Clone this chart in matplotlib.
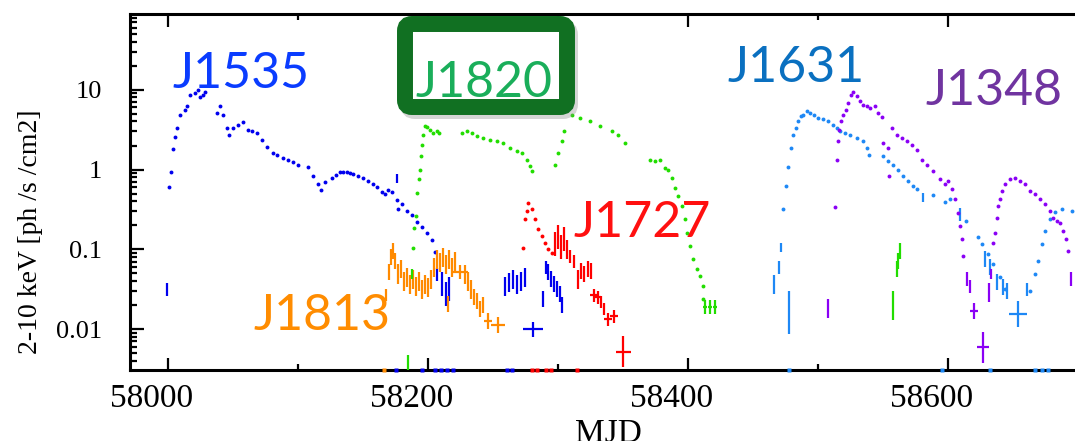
import matplotlib
matplotlib.use("Agg")
import matplotlib.pyplot as plt
import matplotlib.transforms as mtransforms
from matplotlib.patches import FancyBboxPatch
from matplotlib.ticker import FixedLocator, FixedFormatter, LogLocator, MultipleLocator, NullFormatter
import numpy as np

# ---- data (MJD, flux in ph/s/cm2) ----
# J1535 (blue)
j1535_t = [58000.8, 58002.3, 58003.8, 58005.4, 58006.9, 58009.2, 58013.1, 58014.6, 58016.9, 58020.8,
           58023.1, 58024.6, 58026.9, 58028.5, 58037.7, 58040.0, 58042.3, 58045.4, 58046.9, 58050.0,
           58053.8, 58057.7, 58061.5, 58065.0, 58068.5, 58072.0, 58076.2, 58080.8, 58084.0, 58088.5,
           58092.0, 58096.2, 58100.0, 58107.7, 58111.5, 58115.4, 58117.7, 58120.8, 58126.2, 58129.0,
           58132.3, 58135.0, 58137.7, 58140.0, 58142.3, 58146.0, 58150.0, 58154.0, 58157.7, 58161.0,
           58164.6, 58167.0, 58169.2, 58172.3, 58176.2, 58176.9, 58180.0, 58183.8, 58187.7, 58191.5,
           58195.4, 58199.2, 58203.1, 58205.4]
j1535_f = [0.61, 0.94, 1.83, 2.58, 3.35, 4.87, 5.62, 6.31, 8.66, 9.17,
           10.0, 8.18, 8.66, 9.44, 5.16, 6.31, 4.87, 3.35, 2.74, 3.35,
           3.65, 3.98, 3.16, 3.06, 2.90, 2.37, 1.94, 1.63, 1.50, 1.41,
           1.33, 1.26, 1.15, 1.09, 0.82, 0.65, 0.56, 0.69, 0.79, 0.85,
           0.92, 0.93, 0.92, 0.90, 0.87, 0.83, 0.79, 0.72, 0.65, 0.60,
           0.53, 0.50, 0.56, 0.52, 0.42, 0.32, 0.37, 0.30, 0.27, 0.22,
           0.19, 0.16, 0.13, 0.092]
j1535_et = [57999.2, 58176.2, 58206.9, 58210.8, 58213.8, 58216.2, 58259.2, 58262.3, 58265.4, 58268.5,
            58271.5, 58274.6, 58288.5, 58290.8, 58292.3, 58294.6, 58296.9, 58299.2, 58301.5, 58303.1,
            58280.8]
j1535_ef = [0.0316, 0.77, 0.0487, 0.0365, 0.0274, 0.0316, 0.0345, 0.0385, 0.0422, 0.0365,
            0.0398, 0.0447, 0.0237, 0.0596, 0.0516, 0.0422, 0.0365, 0.0316, 0.0274, 0.0200,
            0.0100]
j1535_edex = [0.08, 0.06, 0.08, 0.15, 0.15, 0.15, 0.12, 0.12, 0.12, 0.12,
              0.12, 0.12, 0.10, 0.08, 0.10, 0.10, 0.10, 0.10, 0.10, 0.10,
              0.094]
j1535_xerr = [0.8, 0.8, 0.8, 0.8, 0.8, 0.8, 0.8, 0.8, 0.8, 0.8,
              0.8, 0.8, 0.8, 0.8, 0.8, 0.8, 0.8, 0.8, 0.8, 0.8,
              7.7]
j1535_low = [58175.4, 58195.4, 58205.4, 58210.0, 58214.6, 58219.2, 58260.8, 58264.6]

# J1813 (orange)
j1813_t = [58167.7, 58170.0, 58171.5, 58173.1, 58174.6, 58176.9, 58179.2, 58181.5, 58183.8, 58186.2,
           58188.5, 58190.8, 58193.1, 58195.4, 58197.7, 58200.0, 58202.3, 58204.6, 58206.9, 58209.2,
           58211.5, 58213.8, 58215.4, 58216.2, 58218.5, 58220.8, 58224.6, 58228.5, 58230.8, 58233.1,
           58235.4, 58237.7, 58240.0, 58242.3, 58246.2, 58253.8]
j1813_f = [0.0266, 0.0516, 0.0794, 0.0944, 0.0708, 0.0487, 0.0562, 0.0398, 0.0447, 0.0365,
           0.0422, 0.0345, 0.0398, 0.0316, 0.0365, 0.0335, 0.0422, 0.0596, 0.075, 0.0688,
           0.0794, 0.065, 0.0205, 0.075, 0.0596, 0.0708, 0.0516, 0.0487, 0.0398, 0.0316,
           0.0251, 0.0224, 0.0178, 0.0200, 0.0126, 0.0112]
j1813_edex = [0.075, 0.10, 0.10, 0.10, 0.10, 0.125, 0.11, 0.12, 0.12, 0.12,
              0.12, 0.12, 0.12, 0.12, 0.12, 0.12, 0.12, 0.12, 0.12, 0.12,
              0.12, 0.12, 0.10, 0.12, 0.12, 0.12, 0.09, 0.12, 0.12, 0.12,
              0.10, 0.10, 0.10, 0.10, 0.10, 0.10]
j1813_xerr = [0.8] * 26 + [6.2] + [0.8] * 7 + [3.0, 5.4]
j1813_low = [58166.2]

# J1820 (green)
j1820_t = [58188.7, 58189.5, 58190.5, 58191.8, 58193.1, 58193.8, 58194.6, 58195.6, 58196.4, 58197.7,
           58199.2, 58201.5, 58204.1, 58206.7, 58208.7,
           58225.9, 58229.8, 58233.6, 58237.5, 58242.5, 58247.7, 58252.8, 58257.9, 58263.1, 58268.2,
           58272.1, 58275.9, 58278.5, 58279.8,
           58297.7, 58300.2, 58302.8, 58304.6, 58310.5, 58316.9, 58324.6, 58332.3, 58341.3, 58346.4,
           58351.5,
           58370.8, 58374.6, 58378.5, 58382.3, 58384.8, 58387.5, 58390.0, 58392.5, 58395.2, 58397.7,
           58399.0, 58401.5, 58404.1, 58406.7, 58409.2, 58411.3, 58411.8]
j1820_f = [0.105, 0.187, 0.261, 0.511, 0.765, 1.0, 1.47, 2.05, 2.74, 3.48,
           3.45, 3.16, 2.87, 3.01, 2.87,
           2.87, 3.01, 2.87, 2.66, 2.49, 2.37, 2.26, 2.16, 1.87, 1.69,
           1.62, 1.33, 1.10, 0.95,
           1.155, 1.62, 2.26, 3.01, 4.87, 4.43, 4.02, 3.48, 3.01, 2.74,
           2.16,
           1.33, 1.27, 1.33, 1.05, 1.0, 0.787, 0.59, 0.464, 0.348, 0.237,
           0.162, 0.11, 0.075, 0.0562, 0.0464, 0.0348, 0.0237]
j1820_et = [58187.9, 58413.1, 58416.9, 58420.8, 58557.9, 58560.5, 58561.8, 58563.1, 58184.8]
j1820_ef = [0.0487, 0.0188, 0.0188, 0.0188, 0.0196, 0.0562, 0.0714, 0.0953, 0.003]
j1820_edex = [0.06, 0.09, 0.09, 0.09, 0.18, 0.10, 0.10, 0.10, 0.20]
j1820_xerr = [0.8, 1.5, 1.5, 1.5, 0.8, 0.8, 0.8, 0.8, 0.8]

# J1727 (red)
j1727_t = [58273.3, 58274.6, 58275.9, 58277.2, 58279.8, 58282.3, 58284.8, 58287.5, 58290.0, 58292.5, 58295.2]
j1727_f = [0.105, 0.237, 0.301, 0.384, 0.316, 0.237, 0.178, 0.147, 0.121, 0.100, 0.091]
j1727_et = [58297.7, 58300.0, 58302.3, 58304.6, 58306.9, 58309.2, 58312.3, 58315.4, 58317.7, 58320.0,
            58323.1, 58325.4, 58327.7, 58330.8, 58333.1, 58335.4, 58338.5, 58343.1, 58350.4]
j1727_ef = [0.1155, 0.141, 0.106, 0.133, 0.100, 0.0818, 0.0708, 0.0422, 0.0531, 0.0487,
            0.0562, 0.0531, 0.0266, 0.0251, 0.0218, 0.0178, 0.0133, 0.0145, 0.00523]
j1727_edex = [0.15, 0.15, 0.15, 0.15, 0.12, 0.08, 0.08, 0.12, 0.10, 0.10,
              0.10, 0.10, 0.08, 0.08, 0.08, 0.08, 0.08, 0.08, 0.19]
j1727_xerr = [0.8] * 12 + [3.0, 2.0, 0.8, 0.8, 3.0, 3.0, 5.4]
j1727_low = [58280.0, 58284.0, 58291.0, 58295.0, 58315.0]

# J1631 (light blue)
j1631_t = [58473.3, 58475.2, 58477.2, 58479.2, 58481.0, 58483.1, 58484.8, 58486.9, 58488.7, 58491.3,
           58493.8, 58496.9, 58500.2, 58504.1, 58507.9, 58511.8, 58514.4, 58516.9, 58520.8, 58524.6,
           58529.8, 58534.8, 58537.5, 58539.5, 58550.2, 58554.1, 58558.0, 58561.8, 58565.6, 58569.5,
           58573.3, 58575.9, 58588.5, 58597.7, 58601.5, 58613.8, 58623.1, 58626.2, 58630.8, 58634.6,
           58640.0, 58643.8, 58663.1, 58666.9, 58669.2, 58672.3, 58674.6, 58678.5, 58682.3, 58687.7,
           58695.4]
j1631_f = [0.316, 0.618, 1.08, 1.87, 2.74, 3.32, 4.02, 4.64, 4.87, 5.35,
           5.12, 4.87, 4.43, 4.30, 4.02, 3.65, 3.32, 3.01, 2.87, 2.74,
           2.49, 2.26, 1.87, 1.54, 1.47, 1.27, 1.155, 1.0, 0.825, 0.714,
           0.618, 0.562, 0.473, 0.387, 0.422, 0.224, 0.141, 0.1155, 0.0866, 0.065,
           0.0447, 0.0316, 0.0299, 0.0487, 0.0708, 0.1155, 0.168, 0.237, 0.290, 0.316,
           0.299]
j1631_et = [58466.4, 58470.2, 58471.3, 58477.9, 58580.8, 58609.2, 58628.5, 58632.3, 58637.7, 58642.3,
            58645.4, 58660.8, 58654.1]
j1631_ef = [0.0358, 0.059, 0.105, 0.0162, 0.447, 0.274, 0.075, 0.0596, 0.0385, 0.0335,
            0.0299, 0.0316, 0.0154]
j1631_edex = [0.12, 0.08, 0.06, 0.27, 0.06, 0.08, 0.10, 0.10, 0.10, 0.10,
              0.10, 0.08, 0.16]
j1631_xerr = [0.8] * 12 + [6.9]
j1631_low = [58477.7, 58595.4, 58632.3, 58666.9, 58672.3, 58676.9]

# J1348 (purple)
j1348_t = [58513.1, 58514.4, 58515.6, 58516.4, 58517.7, 58519.5, 58521.5, 58523.3, 58525.4, 58527.2,
           58529.8, 58532.3, 58534.8, 58537.5, 58540.0, 58543.8, 58546.4, 58549.0, 58550.2, 58554.1,
           58554.8, 58557.2, 58561.0, 58564.8, 58568.7, 58572.5, 58576.4, 58580.2, 58583.6, 58588.7,
           58593.8, 58597.7, 58600.2, 58602.8, 58605.4, 58608.0, 58609.2, 58610.5, 58611.8,
           58634.8, 58636.2, 58637.5, 58638.7, 58640.0, 58641.3, 58643.8, 58647.7, 58651.5, 58655.4,
           58659.2, 58663.1, 58666.9, 58670.8, 58674.6, 58678.5, 58681.0, 58683.6, 58686.2, 58688.7,
           58690.5, 58692.5]
j1348_f = [0.342, 1.31, 2.30, 3.16, 4.02, 4.87, 5.62, 6.82, 8.66, 9.25,
           8.41, 7.14, 6.49, 6.18, 5.90, 6.18, 5.12, 4.56, 2.16, 1.87,
           0.841, 3.32, 2.74, 2.49, 2.26, 2.05, 1.78, 1.33, 1.155, 0.952,
           0.75, 0.65, 0.714, 0.562, 0.422, 0.288, 0.195, 0.133, 0.0825,
           0.121, 0.162, 0.249, 0.348, 0.422, 0.535, 0.65, 0.75, 0.772, 0.714,
           0.65, 0.535, 0.487, 0.422, 0.365, 0.301, 0.249, 0.226, 0.216, 0.169,
           0.133, 0.0953]
j1348_et = [58507.9, 58614.4, 58616.9, 58620.0, 58626.7, 58631.8, 58632.8, 58694.4]
j1348_ef = [0.0183, 0.0422, 0.0345, 0.0169, 0.0059, 0.029, 0.0487, 0.0422]
j1348_edex = [0.12, 0.09, 0.08, 0.10, 0.19, 0.12, 0.06, 0.09]
j1348_xerr = [0.8, 0.8, 0.8, 3.0, 4.6, 0.8, 0.8, 0.8]

yticks = [0.01, 0.1, 1, 10]
ytick_labels = ["0.01", "0.1", "1", "10"]
xticks = [58000, 58200, 58400, 58600]

plt.rcParams['font.family'] = ['Liberation Serif', 'DejaVu Serif']

W, H = 1075, 441
fig = plt.figure(figsize=(W / 100, H / 100), dpi=100)
ax = fig.add_axes([130 / W, 71 / H, 945 / W, 356 / H])
ax.set_yscale('log')
ax.set_xlim(57970.8, 58697.7)
ax.set_ylim(0.00307, 89)

def errs(t, f, edex, xerr, color):
	f = np.array(f)
	e = np.array(edex)
	ax.errorbar(t, f, yerr=[f - f * 10 ** -e, f * 10 ** e - f], xerr=xerr, fmt='none',
	            ecolor=color, elinewidth=1.6, capsize=0, zorder=3)

def dots(t, f, color):
	ax.plot(t, f, 'o', ms=2.8, mec='none', mfc=color, zorder=3)

def lows(t, color):
	ax.plot(t, [ax.get_ylim()[0]] * len(t), 's', ms=2.2, mec='none', mfc=color, clip_on=False, zorder=4)

c1535, c1813, c1820, c1727, c1631, c1348 = '#0000ee', '#ff8a00', '#22dd00', '#ff0000', '#1e88f5', '#8a00f5'

dots(j1535_t, j1535_f, c1535)
errs(j1535_et, j1535_ef, j1535_edex, j1535_xerr, c1535)
lows(j1535_low, c1535)
errs(j1813_t, j1813_f, j1813_edex, j1813_xerr, c1813)
lows(j1813_low, c1813)
dots(j1820_t, j1820_f, c1820)
errs(j1820_et, j1820_ef, j1820_edex, j1820_xerr, c1820)
dots(j1727_t, j1727_f, c1727)
errs(j1727_et, j1727_ef, j1727_edex, j1727_xerr, c1727)
lows(j1727_low, c1727)
dots(j1631_t, j1631_f, c1631)
errs(j1631_et, j1631_ef, j1631_edex, j1631_xerr, c1631)
lows(j1631_low, c1631)
dots(j1348_t, j1348_f, c1348)
errs(j1348_et, j1348_ef, j1348_edex, j1348_xerr, c1348)

# axes cosmetics
for s in ['left', 'bottom', 'top']:
	ax.spines[s].set_linewidth(2.2)
ax.spines['right'].set_visible(False)
ax.yaxis.set_major_locator(FixedLocator(yticks))
ax.yaxis.set_major_formatter(FixedFormatter(ytick_labels))
ax.yaxis.set_minor_locator(LogLocator(base=10, subs=np.arange(2, 10)))
ax.yaxis.set_minor_formatter(NullFormatter())
ax.xaxis.set_major_locator(FixedLocator(xticks))
ax.xaxis.set_major_formatter(FixedFormatter([str(v) for v in xticks]))
ax.xaxis.set_minor_locator(MultipleLocator(100))
ax.tick_params(which='both', direction='in', top=True, right=False, width=1.6)
ax.tick_params(axis='y', which='major', length=10, labelsize=19, pad=20)
ax.tick_params(axis='y', which='minor', length=5)
ax.tick_params(axis='x', which='major', length=9, labelsize=24, pad=10)
ax.tick_params(axis='x', which='minor', length=4.5)
shift = mtransforms.ScaledTranslation(-0.16, 0, fig.dpi_scale_trans)
for lab in ax.get_xticklabels():
	lab.set_transform(lab.get_transform() + shift)

fig.text(31 / W, 1 - 232 / H, "2-10 keV [ph /s /cm2]", rotation=90, ha='center', va='center', fontsize=20)
# the axis title sits partly below the lower edge, as in the original
fig.text(608 / W, -0.002, "MJD", ha='center', va='baseline', fontsize=24)

# source labels
lab_font = ['Lato', 'DejaVu Sans']
labels = [("J1535", 172, 88, '#0a3cff'), ("J1631", 727, 82, '#0a70c0'), ("J1348", 925, 105, '#7034a0'),
          ("J1727", 573, 237, '#ff1010'), ("J1813", 253, 330, '#ff8c00')]
for txt, x, y, col in labels:
	fig.text(x / W, 1 - y / H, txt, ha='left', va='baseline', fontsize=36, color=col,
	         family=lab_font, zorder=10)

# boxed J1820 label
ident = mtransforms.IdentityTransform()
shadow = FancyBboxPatch((408, H - 111), 162, 83, boxstyle="round,pad=0,rounding_size=7",
                        transform=ident, facecolor='none', edgecolor='#888888', lw=11.5, alpha=0.35, zorder=8)
fig.add_artist(shadow)
box = FancyBboxPatch((405, H - 107), 162, 83, boxstyle="round,pad=0,rounding_size=7",
                     transform=ident, facecolor='white', edgecolor='#117022', lw=11.5, zorder=9)
fig.add_artist(box)
fig.text(415 / W, 1 - 97 / H, "J1820", ha='left', va='baseline', fontsize=36, color='#1aae5a',
         family=lab_font, zorder=11)

fig.savefig("out.png", dpi=100)
